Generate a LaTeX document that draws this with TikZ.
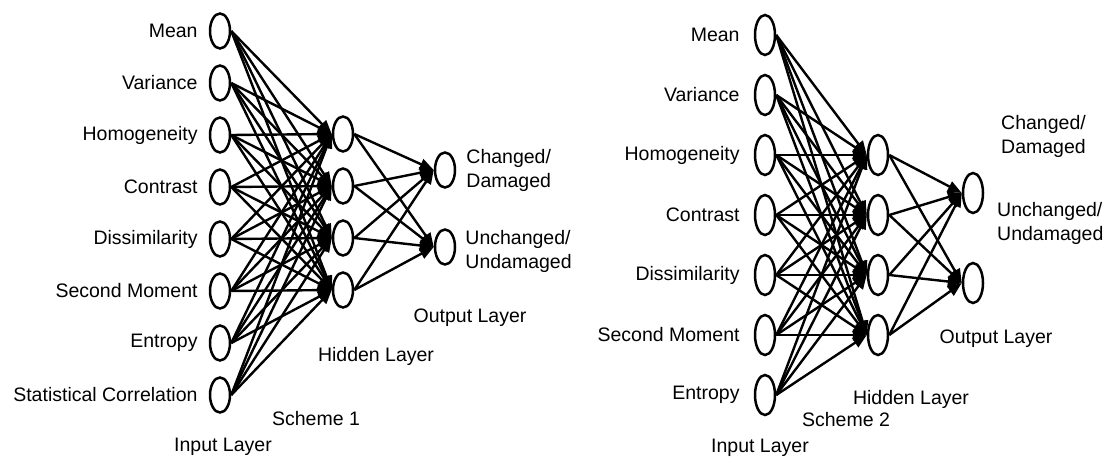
\documentclass[tikz,border=0pt]{standalone}
\usepackage{fontspec}
\setmainfont{Liberation Sans}
\usetikzlibrary{positioning}
\usetikzlibrary{arrows.meta}
\usetikzlibrary{shapes.geometric}

\tikzset{
	neuron/.style={draw, ellipse, line width=2.5pt, inner sep=0pt, minimum width=20pt, minimum height=35pt},
	bigneuron/.style={neuron, minimum height=40pt},
	lbl/.style={inner sep=0pt, font=\fontsize{19.5}{24}\selectfont, align=left},
	link/.style={line width=2.4pt, -{Triangle[length=14pt,width=11pt]}}
}

\begin{document}
\begin{tikzpicture}[x=1pt,y=-1pt,node distance=52pt]
	\useasboundingbox (0,0) rectangle (1110,458);
	
	% Scheme 1
	\node[neuron] (a1) at (220,31) {};
	\node[neuron, below of = a1] (a2) {};
	\node[neuron, below of = a2] (a3) {};
	\node[neuron, below of = a3] (a4) {};
	\node[neuron, below of = a4] (a5) {};
	\node[neuron, below of = a5] (a6) {};
	\node[neuron, below of = a6] (a7) {};
	\node[neuron, below of = a7] (a8) {};
	\node[neuron] (b1) at (343,134) {};
	\node[neuron, below of = b1] (b2) {};
	\node[neuron, below of = b2] (b3) {};
	\node[neuron, below of = b3] (b4) {};
	\node[neuron] (c1) at (445,170) {};
	\node[neuron, below of = c1, node distance=77pt] (c2) {};
	
	\node[lbl, left=11pt of a1] (ta1) {Mean};
	\node[lbl, left=11pt of a2] (ta2) {Variance};
	\node[lbl, left=11pt of a3] (ta3) {Homogeneity};
	\node[lbl, left=11pt of a4] (ta4) {Contrast};
	\node[lbl, left=11pt of a5] (ta5) {Dissimilarity};
	\node[lbl, left=11pt of a6] (ta6) {Second Moment};
	\node[lbl, left=11pt of a7] (ta7) {Entropy};
	\node[lbl, left=11pt of a8] (ta8) {Statistical Correlation};
	\node[lbl, right=10pt of c1] (tc1) {Changed/\\Damaged};
	\node[lbl, right=9pt of c2, yshift=-4pt] (tc2) {Unchanged/\\Undamaged};
	\node[lbl] (out1) at (470,318) {Output Layer};
	\node[lbl] (hid1) at (376,356) {Hidden Layer};
	\node[lbl] (sch1) at (316,419) {Scheme 1};
	\node[lbl] (inp1) at (223,447) {Input Layer};
	
	\foreach \i in {1,...,8}
		\foreach \j in {1,...,4}
			\draw[link] (a\i.east) -- (b\j.west);
	\foreach \j in {1,...,4}
		\foreach \k in {1,2}
			\draw[link] (b\j.east) -- (c\k.west);
	
	% Scheme 2
	\node[bigneuron] (d1) at (765,35) {};
	\node[bigneuron, below of = d1, node distance=60pt] (d2) {};
	\node[bigneuron, below of = d2, node distance=60pt] (d3) {};
	\node[bigneuron, below of = d3, node distance=60pt] (d4) {};
	\node[bigneuron, below of = d4, node distance=60pt] (d5) {};
	\node[bigneuron, below of = d5, node distance=60pt] (d6) {};
	\node[bigneuron, below of = d6, node distance=60pt] (d7) {};
	\node[bigneuron] (e1) at (878,155) {};
	\node[bigneuron, below of = e1, node distance=60pt] (e2) {};
	\node[bigneuron, below of = e2, node distance=60pt] (e3) {};
	\node[bigneuron, below of = e3, node distance=60pt] (e4) {};
	\node[bigneuron] (f1) at (973,193) {};
	\node[bigneuron, below of = f1, node distance=90pt] (f2) {};
	
	\node[lbl, left=14pt of d1] (td1) {Mean};
	\node[lbl, left=14pt of d2] (td2) {Variance};
	\node[lbl, left=14pt of d3] (td3) {Homogeneity};
	\node[lbl, left=14pt of d4] (td4) {Contrast};
	\node[lbl, left=14pt of d5] (td5) {Dissimilarity};
	\node[lbl, left=14pt of d6] (td6) {Second Moment};
	\node[lbl, left=14pt of d7] (td7) {Entropy};
	\node[lbl, anchor=west] (tf1) at (1001,136) {Changed/\\Damaged};
	\node[lbl, anchor=west] (tf2) at (997,223) {Unchanged/\\Undamaged};
	\node[lbl] (out2) at (996,339) {Output Layer};
	\node[lbl] (hid2) at (911,399) {Hidden Layer};
	\node[lbl] (sch2) at (846,420) {Scheme 2};
	\node[lbl] (inp2) at (760,448) {Input Layer};
	
	\foreach \i in {1,...,7}
		\foreach \j in {1,...,4}
			\draw[link] (d\i.east) -- (e\j.west);
	\foreach \j in {1,...,4}
		\foreach \k in {1,2}
			\draw[link] (e\j.east) -- (f\k.west);
\end{tikzpicture}
\end{document}
